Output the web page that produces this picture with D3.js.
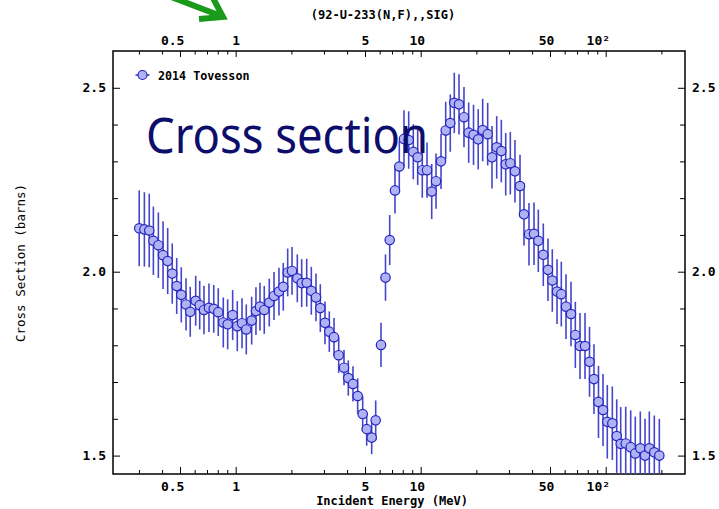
<!DOCTYPE html>
<html>
<head>
<meta charset="utf-8">
<script src="https://cdn.jsdelivr.net/npm/d3@7"></script>
<style>
  body { margin: 0; background: #fff; }
  svg { display: block; }
</style>
</head>
<body>
<script>
// U-233 (n,f) cross section, Tovesson 2014
const energy = [
  0.301, 0.321, 0.341, 0.359, 0.382, 0.405, 0.429, 0.454, 0.480, 0.508,
  0.539, 0.568, 0.608, 0.639, 0.674, 0.717, 0.761, 0.805, 0.857, 0.905,
  0.963, 1.020, 1.082, 1.141, 1.220, 1.287, 1.353, 1.427, 1.519, 1.611,
  1.714, 1.808, 1.910, 2.016, 2.153, 2.274, 2.420, 2.563, 2.717, 2.867,
  3.039, 3.206, 3.400, 3.604, 3.850, 4.061, 4.306, 4.565, 4.858, 5.106,
  5.434, 5.711, 6.102, 6.453, 6.800, 7.262, 7.661, 8.122, 8.612, 9.120,
  9.634, 10.20, 10.82, 11.47, 12.10, 12.88, 13.65, 14.45, 15.19, 16.11,
  17.14, 18.17, 19.30, 20.46, 21.63, 23.02, 24.29, 25.75, 27.28, 28.81,
  30.51, 32.33, 34.42, 36.17, 38.49, 40.97, 43.23, 46.00, 48.76, 51.45,
  54.56, 57.54, 61.02, 64.93, 68.52, 72.64, 77.30, 81.75, 86.40, 91.40,
  96.70, 102.0, 108.6, 114.7, 120.5, 128.3, 136.5, 144.5, 153.8, 163.1,
  172.1, 183.1, 194.9
];
const xsec = [
  2.118, 2.115, 2.112, 2.084, 2.072, 2.045, 2.029, 1.995, 1.961, 1.937,
  1.911, 1.891, 1.921, 1.909, 1.896, 1.902, 1.899, 1.890, 1.862, 1.857,
  1.882, 1.852, 1.860, 1.843, 1.867, 1.893, 1.905, 1.896, 1.916, 1.934,
  1.946, 1.959, 1.998, 2.002, 1.982, 1.969, 1.970, 1.948, 1.930, 1.901,
  1.861, 1.837, 1.822, 1.773, 1.739, 1.711, 1.695, 1.662, 1.613, 1.572,
  1.549, 1.596, 1.801, 1.984, 2.086, 2.221, 2.286, 2.361, 2.358, 2.326,
  2.311, 2.276, 2.276, 2.218, 2.246, 2.300, 2.384, 2.404, 2.459, 2.455,
  2.420, 2.378, 2.372, 2.360, 2.385, 2.374, 2.311, 2.338, 2.328, 2.292,
  2.295, 2.273, 2.233, 2.156, 2.102, 2.103, 2.084, 2.046, 2.005, 1.976,
  1.946, 1.939, 1.905, 1.885, 1.828, 1.798, 1.798, 1.755, 1.708, 1.646,
  1.624, 1.592, 1.588, 1.553, 1.532, 1.533, 1.523, 1.506, 1.520, 1.500,
  1.520, 1.509, 1.500
];
const dxsec = [
  0.103, 0.101, 0.100, 0.093, 0.089, 0.092, 0.090, 0.082, 0.076, 0.075,
  0.071, 0.068, 0.068, 0.066, 0.066, 0.066, 0.065, 0.065, 0.068, 0.068,
  0.068, 0.068, 0.068, 0.068, 0.065, 0.065, 0.065, 0.065, 0.065, 0.065,
  0.065, 0.065, 0.065, 0.065, 0.065, 0.065, 0.065, 0.065, 0.065, 0.065,
  0.058, 0.055, 0.052, 0.048, 0.048, 0.048, 0.048, 0.048, 0.048, 0.045,
  0.045, 0.054, 0.060, 0.063, 0.068, 0.063, 0.070, 0.078, 0.078, 0.075,
  0.075, 0.075, 0.075, 0.075, 0.075, 0.075, 0.078, 0.078, 0.082, 0.082,
  0.082, 0.082, 0.082, 0.082, 0.085, 0.085, 0.085, 0.085, 0.085, 0.085,
  0.085, 0.085, 0.085, 0.085, 0.085, 0.085, 0.085, 0.085, 0.085, 0.085,
  0.088, 0.088, 0.088, 0.088, 0.090, 0.090, 0.090, 0.095, 0.095, 0.098,
  0.098, 0.100, 0.100, 0.100, 0.100, 0.100, 0.100, 0.100, 0.100, 0.100,
  0.100, 0.100, 0.100
];

// Axis ticks
const xMajorTicks = [0.5, 1, 5, 10, 50, 100];
const xMajorLabels = ["0.5", "1", "5", "10", "50", "10\u00B2"];
const xMinorTicks = [0.3, 0.4, 0.6, 0.7, 0.8, 0.9, 2, 3, 4, 6, 7, 8, 9,
                     20, 30, 40, 60, 70, 80, 90, 200];
const yMajorTicks = [1.5, 2.0, 2.5];
const yMajorLabels = ["1.5", "2.0", "2.5"];
const yMinorTicks = [1.6, 1.7, 1.8, 1.9, 2.1, 2.2, 2.3, 2.4];

const titleText = "(92-U-233(N,F),,SIG)";
const xTitle = "Incident Energy (MeV)";
const yTitle = "Cross Section (barns)";
const seriesName = "2014 Tovesson";
const overlayText = "Cross section";

const W = 719, H = 509;
const box = { left: 113, right: 685, top: 51, bottom: 474 };
const mono = "'DejaVu Sans Mono', 'Liberation Mono', monospace";

const svg = d3.select("body").append("svg")
  .attr("width", W).attr("height", H);

const x = d3.scaleLog().domain([0.2172, 268.3]).range([box.left, box.right]);
const y = d3.scaleLinear().domain([1.45, 2.6]).range([box.bottom, box.top]);

svg.append("clipPath").attr("id", "plotclip")
  .append("rect")
  .attr("x", box.left).attr("y", box.top)
  .attr("width", box.right - box.left).attr("height", box.bottom - box.top);

// axes: ticks point into the frame
function drawAxis(gen, tx, ty, values, labels, size, pad) {
  const g = svg.append("g")
    .attr("transform", `translate(${tx},${ty})`)
    .call(gen.tickValues(values)
      .tickSize(-size)
      .tickPadding(pad)
      .tickFormat((d, i) => labels ? labels[i] : ""));
  g.select(".domain").remove();
  g.selectAll(".tick line").attr("stroke", "#000").attr("stroke-width", 1);
  g.selectAll("text")
    .attr("fill", "#000")
    .style("font-family", mono)
    .style("font-weight", "bold")
    .style("font-size", "13px");
  return g;
}

// energy labels sit with their last digit over the tick
function alignEnergyLabels(g) {
  g.selectAll("text").attr("text-anchor", "end").attr("dx", "0.3em");
}

alignEnergyLabels(drawAxis(d3.axisBottom(x), 0, box.bottom, xMajorTicks, xMajorLabels, 7, 8));
drawAxis(d3.axisBottom(x), 0, box.bottom, xMinorTicks, null, 4, 8);
alignEnergyLabels(drawAxis(d3.axisTop(x), 0, box.top, xMajorTicks, xMajorLabels, 6, 6));
drawAxis(d3.axisTop(x), 0, box.top, xMinorTicks, null, 3.5, 6);
drawAxis(d3.axisLeft(y), box.left, 0, yMajorTicks, yMajorLabels, 7, 7);
drawAxis(d3.axisLeft(y), box.left, 0, yMinorTicks, null, 5, 7);
drawAxis(d3.axisRight(y), box.right, 0, yMajorTicks, yMajorLabels, 7, 7);
drawAxis(d3.axisRight(y), box.right, 0, yMinorTicks, null, 5, 7);

// frame
svg.append("rect")
  .attr("x", box.left).attr("y", box.top)
  .attr("width", box.right - box.left).attr("height", box.bottom - box.top)
  .attr("fill", "none").attr("stroke", "#000").attr("stroke-width", 1.5);

// titles
svg.append("text")
  .attr("x", 383).attr("y", 19)
  .attr("text-anchor", "middle")
  .style("font-family", mono).style("font-weight", "bold").style("font-size", "12px")
  .text(titleText);

svg.append("text")
  .attr("x", 392).attr("y", 505)
  .attr("text-anchor", "middle")
  .style("font-family", mono).style("font-weight", "bold").style("font-size", "12px")
  .text(xTitle);

svg.append("text")
  .attr("transform", "translate(25,263) rotate(-90)")
  .attr("text-anchor", "middle")
  .style("font-family", mono).style("font-size", "12.5px")
  .text(yTitle);

// data
const pts = energy.map((e, i) => ({ e, v: xsec[i], dv: dxsec[i] }));
const dataG = svg.append("g").attr("clip-path", "url(#plotclip)");

dataG.selectAll("line.err").data(pts).join("line")
  .attr("class", "err")
  .attr("x1", d => x(d.e)).attr("x2", d => x(d.e))
  .attr("y1", d => y(d.v - d.dv)).attr("y2", d => y(d.v + d.dv))
  .attr("stroke", "#4646cc").attr("stroke-width", 1.6);

dataG.selectAll("circle.pt").data(pts).join("circle")
  .attr("class", "pt")
  .attr("cx", d => x(d.e)).attr("cy", d => y(d.v))
  .attr("r", 4.7)
  .attr("fill", "#b0b3f3").attr("stroke", "#2424c0").attr("stroke-width", 1.2);

// legend
const lg = svg.append("g").attr("transform", "translate(142.5,75)");
lg.append("line").attr("x1", -7).attr("x2", 7).attr("y1", 0).attr("y2", 0)
  .attr("stroke", "#4646cc").attr("stroke-width", 1.6);
lg.append("circle").attr("r", 4.5)
  .attr("fill", "#b0b3f3").attr("stroke", "#2424c0").attr("stroke-width", 1.2);
lg.append("text").attr("x", 15.5).attr("y", 4.5)
  .style("font-family", mono).style("font-weight", "bold").style("font-size", "11.7px")
  .text(seriesName);

// large annotation
svg.append("text")
  .attr("x", 146).attr("y", 153)
  .attr("textLength", 282).attr("lengthAdjust", "spacingAndGlyphs")
  .attr("fill", "#0d0d6b")
  .style("font-family", "'Noto Sans', 'Open Sans', sans-serif")
  .style("font-size", "50px")
  .text(overlayText);

// green pointer arrow
const arrow = svg.append("g")
  .attr("stroke", "#1a9a1a").attr("stroke-width", 6).attr("fill", "none")
  .attr("stroke-linecap", "butt").attr("stroke-linejoin", "miter");
arrow.append("line").attr("x1", 166).attr("y1", -5).attr("x2", 221).attr("y2", 16);
arrow.append("polyline").attr("points", "213,-2 223,17 199,19");
</script>
</body>
</html>
